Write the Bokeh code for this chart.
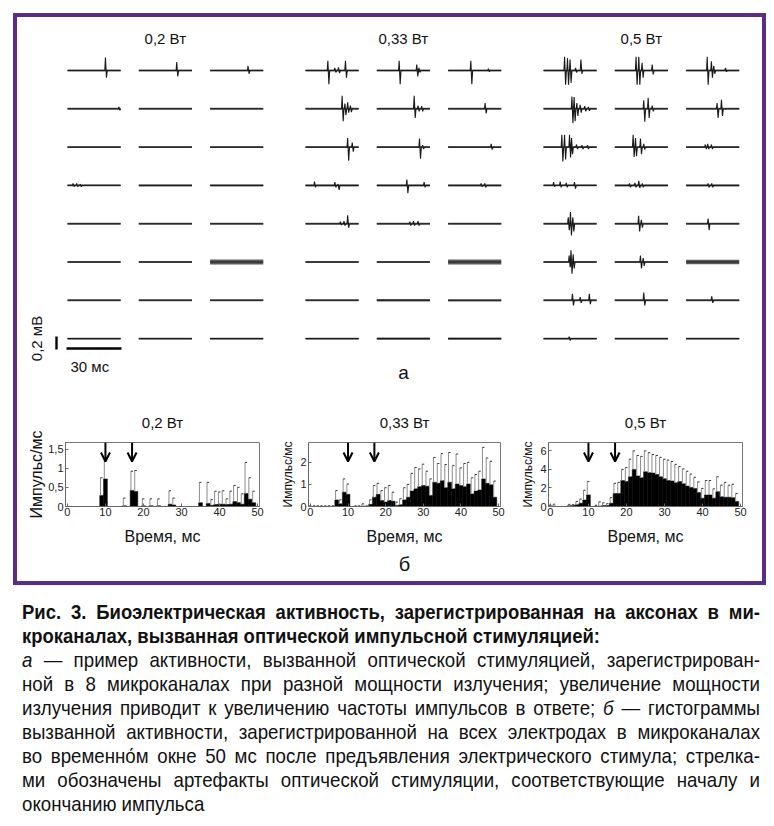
from bokeh.plotting import figure
from bokeh.layouts import column, row
from bokeh.models import Range1d, FixedTicker, Arrow, OpenHead, Title, Div, Spacer
from bokeh.embed import file_html
from bokeh.resources import INLINE
from bokeh.core.properties import value
import math

FONT = "Liberation Sans"
PURPLE = "#5b2c8a"

POWER_LABELS = ["0,2 Вт", "0,33 Вт", "0,5 Вт"]
TRACE_MS = 29.0
SCALE_MS = 30
SCALE_MV = 0.2

# spike events per trace: (time ms, up mV, down mV); 8 rows x 3 columns
SPIKES_02W = [
    [[(20.7, 0.20, 0.11)], [(20.7, 0.13, 0.09)], [(20.7, 0.07, 0.05)]],
    [[(28.0, 0.03, 0.02)], [], []],
    [[], [], []],
    [[(3.0, 0.03, 0.02), (5.0, 0.03, 0.02), (7.0, 0.02, 0.02)], [], []],
    [[], [], []],
    [[], [], []],
    [[], [], []],
    [[], [], []],
]
NOISE_02W = [
    [0.015, 0.015, 0.015], [0.015, 0.015, 0.015], [0.015, 0.015, 0.015], [0.012, 0.015, 0.015],
    [0.015, 0.015, 0.015], [0.015, 0.015, 0.040], [0.015, 0.015, 0.015], [0.015, 0.015, 0.015],
]
SPIKES_033W = [
    [[(12.2, 0.15, 0.21), (16.0, 0.04, 0.03), (18.0, 0.05, 0.04), (21.8, 0.15, 0.11)],
     [(12.2, 0.15, 0.21), (21.8, 0.09, 0.09), (23.0, 0.04, 0.03)],
     [(12.4, 0.15, 0.21), (22.0, 0.03, 0.02)]],
    [[(20.0, 0.20, 0.19), (21.5, 0.08, 0.10), (23.0, 0.10, 0.06), (24.5, 0.05, 0.05)],
     [(20.4, 0.20, 0.14), (22.5, 0.05, 0.04), (24.5, 0.04, 0.04)],
     [(20.2, 0.09, 0.07)]],
    [[(23.0, 0.14, 0.21), (25.5, 0.07, 0.07)],
     [(23.3, 0.13, 0.18), (25.0, 0.03, 0.03)],
     [(23.5, 0.05, 0.04)]],
    [[(4.9, 0.06, 0.03), (16.0, 0.05, 0.03), (17.8, 0.02, 0.07)],
     [(16.4, 0.09, 0.12), (25.8, 0.05, 0.03)],
     [(18.0, 0.03, 0.02), (20.0, 0.03, 0.03)]],
    [[(19.0, 0.03, 0.02), (21.0, 0.04, 0.03), (23.0, 0.13, 0.06)],
     [(18.0, 0.03, 0.03), (20.0, 0.04, 0.03), (22.5, 0.04, 0.03)],
     []],
    [[], [], []],
    [[], [], []],
    [[], [], []],
]
NOISE_033W = [
    [0.015, 0.015, 0.015], [0.015, 0.015, 0.015], [0.015, 0.015, 0.015], [0.015, 0.015, 0.015],
    [0.015, 0.015, 0.015], [0.015, 0.015, 0.040], [0.015, 0.020, 0.018], [0.015, 0.017, 0.017],
]
SPIKES_05W = [
    [[(11.5, 0.21, 0.22), (13.1, 0.19, 0.22), (14.5, 0.17, 0.19), (17.5, 0.04, 0.03), (20.4, 0.17, 0.05)],
     [(11.6, 0.21, 0.22), (13.1, 0.21, 0.22), (14.9, 0.12, 0.11), (20.4, 0.09, 0.06)],
     [(11.5, 0.21, 0.22), (13.8, 0.14, 0.11), (15.1, 0.07, 0.05), (21.5, 0.04, 0.02)]],
    [[(15.5, 0.19, 0.22), (16.7, 0.18, 0.19), (18.2, 0.09, 0.11), (20.0, 0.06, 0.06), (22.5, 0.04, 0.04), (24.5, 0.03, 0.03)],
     [(15.8, 0.13, 0.20), (18.2, 0.17, 0.14), (20.4, 0.05, 0.04)],
     [(16.9, 0.09, 0.14), (19.3, 0.14, 0.11)]],
    [[(10.0, 0.19, 0.22), (11.5, 0.19, 0.19), (14.2, 0.19, 0.16), (15.3, 0.14, 0.11), (18.0, 0.04, 0.03), (21.0, 0.03, 0.03), (24.0, 0.03, 0.03)],
     [(10.0, 0.19, 0.15), (11.3, 0.14, 0.14), (14.0, 0.13, 0.11), (15.8, 0.05, 0.04)],
     [(10.5, 0.04, 0.03), (11.8, 0.05, 0.03), (13.8, 0.04, 0.03)]],
    [[(5.5, 0.05, 0.02), (9.1, 0.06, 0.03), (12.4, 0.04, 0.03), (16.9, 0.05, 0.05)],
     [(8.0, 0.03, 0.03), (11.0, 0.04, 0.03), (13.1, 0.07, 0.04), (15.0, 0.03, 0.03)],
     [(12.0, 0.03, 0.03), (14.0, 0.03, 0.03)]],
    [[(13.5, 0.10, 0.10), (14.7, 0.18, 0.18), (16.0, 0.10, 0.12)],
     [(13.0, 0.12, 0.12), (14.5, 0.06, 0.06)],
     [(12.0, 0.08, 0.10)]],
    [[(14.0, 0.10, 0.08), (15.0, 0.18, 0.18), (16.2, 0.12, 0.10)],
     [(14.0, 0.10, 0.10), (15.5, 0.06, 0.06)],
     []],
    [[(15.8, 0.10, 0.08), (20.0, 0.05, 0.04), (25.0, 0.10, 0.06)],
     [(15.8, 0.12, 0.08)],
     [(14.0, 0.06, 0.04)]],
    [[(14.0, 0.03, 0.03)], [], []],
]
NOISE_05W = [
    [0.015, 0.015, 0.015], [0.015, 0.015, 0.015], [0.015, 0.015, 0.015], [0.012, 0.015, 0.015],
    [0.015, 0.015, 0.015], [0.015, 0.015, 0.036], [0.015, 0.015, 0.015], [0.015, 0.015, 0.015],
]

# histograms: 1 ms bins
BIN_MS = list(range(50))
ARROW_MS = [10, 17]
H02_MEAN = [0, 0, 0, 0, 0, 0, 0, 0, 0, 0.29, 0.72, 0, 0, 0, 0, 0.02, 0, 0.42, 0.39, 0,
            0.02, 0, 0.02, 0, 0.02, 0, 0, 0.06, 0.04, 0, 0, 0, 0, 0, 0, 0.10, 0, 0.08, 0.03, 0.05,
            0.06, 0.06, 0.05, 0.06, 0.13, 0.10, 0.06, 0.34, 0.19, 0.10]
H02_ERR = [0, 0, 0, 0, 0, 0, 0, 0, 0, 0.46, 0.55, 0, 0, 0, 0, 0.20, 0, 0.50, 0.55, 0,
           0.18, 0, 0.18, 0, 0.18, 0, 0, 0.35, 0.18, 0, 0, 0, 0, 0, 0, 0.53, 0, 0.55, 0.15, 0.35,
           0.32, 0.35, 0.15, 0.34, 0.42, 0.40, 0.27, 0.81, 0.56, 0.30]
H033_MEAN = [0, 0, 0, 0, 0, 0, 0, 0.30, 0.12, 0.65, 0.55, 0, 0, 0, 0.02, 0, 0.10, 0.42, 0.55, 0.27,
             0.20, 0.27, 0.24, 0.05, 0.08, 0.30, 0.42, 0.70, 0.80, 0.90, 0.95, 0.92, 0.50, 1.10, 1.05, 1.17,
             0.85, 1.10, 0.80, 1.02, 0.95, 0.90, 1.02, 0.57, 0.70, 0.75, 1.25, 1.05, 0.98, 0.42]
H033_ERR = [0.03, 0.03, 0.03, 0.03, 0.03, 0.03, 0.03, 0.42, 0.18, 0.60, 0.47, 0, 0.03, 0.03, 0.10, 0.03,
            0.20, 0.53, 0.50, 0.45, 0.65, 0.68, 0.41, 0.15, 0.27, 0.55, 0.58, 0.80, 0.97, 0.80, 0.97, 0.68,
            0.75, 1.12, 0.90, 1.23, 1.05, 1.35, 1.05, 1.36, 0.80, 1.05, 0.98, 0.73, 0.75, 0.85, 1.43, 1.15,
            1.07, 0.73]
H05_MEAN = [0.05, 0.05, 0, 0, 0, 0.08, 0.10, 0.20, 0.35, 0.70, 1.25, 0, 0.03, 0.05, 0.10, 0.10, 0.35,
            1.40, 1.40, 2.80, 2.70, 3.20, 4.00, 3.30, 3.10, 3.75, 3.65, 3.60, 3.45, 3.20, 3.00, 2.80, 2.75,
            2.55, 2.70, 2.45, 2.20, 2.05, 1.95, 1.50, 0.90, 1.25, 1.25, 0.90, 1.60, 1.05, 1.00, 1.00, 0.95,
            0.55]
H05_ERR = [0.10, 0.20, 0, 0, 0, 0.15, 0.10, 0.35, 0.45, 1.05, 1.45, 0, 0.10, 0.45, 0.30, 0.20, 0.60,
           1.10, 1.20, 1.20, 1.50, 1.90, 2.00, 2.20, 2.30, 2.25, 2.15, 2.00, 2.05, 2.10, 2.10, 2.20, 2.10,
           2.00, 1.60, 1.60, 1.60, 1.45, 1.20, 1.15, 1.05, 1.55, 1.55, 1.00, 1.60, 1.25, 1.60, 1.30, 1.45,
           0.85]
H02_TICKS = [0, 0.5, 1, 1.5]
H02_TICK_LABELS = ["0", "0,5", "1", "1,5"]
H033_TICKS = [0, 1, 2]
H033_TICK_LABELS = ["0", "1", "2"]
H05_TICKS = [0, 2, 4, 6]
H05_TICK_LABELS = ["0", "2", "4", "6"]
H_YMAX = [1.67, 2.9, 6.9]

CAPTION_LINES = [
    ("bold", "Рис. 3. Биоэлектрическая активность, зарегистрированная на аксонах в ми-", True),
    ("bold", "кроканалах, вызванная оптической импульсной стимуляцией:", False),
    ("normal", "<i>а</i> — пример активности, вызванной оптической стимуляцией, зарегистрирован-", True),
    ("normal", "ной в 8 микроканалах при разной мощности излучения; увеличение мощности", True),
    ("normal", "излучения приводит к увеличению частоты импульсов в ответе; <i>б</i> — гистограммы", True),
    ("normal", "вызванной активности, зарегистрированной на всех электродах в микроканалах", True),
    ("normal", "во временно\u0301м окне 50 мс после предъявления электрического стимула; стрелка-", True),
    ("normal", "ми обозначены артефакты оптической стимуляции, соответствующие началу и", True),
    ("normal", "окончанию импульса", False),
]

# ---------------- top panel (a) ----------------
PX_MS = 1.833
PX_MV = 65.0
TOP_W, TOP_H = 745, 383

top = figure(width=TOP_W, height=TOP_H, output_backend="svg", toolbar_location=None,
             x_range=Range1d(0, TOP_W / PX_MS), y_range=Range1d(0, TOP_H / PX_MV),
             min_border=0, x_axis_type=None, y_axis_type=None)
top.grid.visible = False
top.outline_line_color = None
top.background_fill_color = "white"
top.border_fill_color = "white"


def ms(px):
    return px / PX_MS


def mv_from_top(px):
    return (TOP_H - px) / PX_MV


band_x0, band_x1, band_y, band_w = [], [], [], []
line_xs, line_ys = [], []
groups = [(SPIKES_02W, NOISE_02W), (SPIKES_033W, NOISE_033W), (SPIKES_05W, NOISE_05W)]
for g, (spikes, noise) in enumerate(groups):
    for r in range(8):
        y0 = mv_from_top(53 + 38.3 * r)
        for c in range(3):
            x0 = ms(50 + 238 * g + 71.3 * c)
            band_x0.append(x0)
            band_x1.append(x0 + TRACE_MS)
            band_y.append(y0)
            band_w.append(max(1.6, noise[r][c] * 2 * PX_MV))
            xs, ys = [x0], [y0]
            for t, up, dn in sorted(spikes[r][c]):
                xs += [x0 + t - 0.35, x0 + t, x0 + t + 0.55, x0 + t + 1.0]
                ys += [y0, y0 + up, y0 - dn, y0]
            xs.append(x0 + TRACE_MS)
            ys.append(y0)
            line_xs.append(xs)
            line_ys.append(ys)

top.segment(x0=band_x0, x1=band_x1, y0=band_y, y1=band_y, line_width=band_w, line_color="#333333",
            line_alpha=0.8)
top.multi_line(xs=line_xs, ys=line_ys, line_color="#1a1a1a", line_width=1.1)

gx = [ms(50 + 238 * g + (2 * 71.3 + 53) / 2) for g in range(3)]
top.text(x=gx, y=[mv_from_top(21)] * 3, text=POWER_LABELS, text_font=value(FONT),
         text_font_size="15px", text_align="center", text_baseline="middle", text_color="#111")

# scale bars
sb_x = ms(66 - 17)
sb_y = mv_from_top(348 - 17)
top.segment(x0=[sb_x], x1=[sb_x + SCALE_MS], y0=[sb_y], y1=[sb_y], line_width=2.6, line_color="black")
vb_x = ms(56 - 17)
vb_y = mv_from_top(349 - 17)
top.segment(x0=[vb_x], x1=[vb_x], y0=[vb_y], y1=[vb_y + SCALE_MV], line_width=2.4, line_color="black")
top.text(x=[ms(70 - 17)], y=[mv_from_top(366 - 17)], text=["30 мс"], text_font=value(FONT),
         text_font_size="15px", text_align="left", text_baseline="middle", text_color="#111")
top.text(x=[ms(36 - 17)], y=[mv_from_top(338 - 17)], text=["0,2 мВ"], text_font=value(FONT),
         text_font_size="15px", text_align="center", text_baseline="middle", angle=math.pi / 2,
         text_color="#111")
top.text(x=[ms(403 - 17)], y=[mv_from_top(372 - 17)], text=["а"], text_font=value(FONT),
         text_font_size="19px", text_align="center", text_baseline="middle", text_color="#111")


# ---------------- histograms (б) ----------------
def make_hist(mean, err, ymax, ticks, tick_labels, title, ylab_size, width, left, right, below=None):
    p = figure(width=width, height=181, output_backend="svg", toolbar_location=None,
               x_range=Range1d(-0.5, 50.5), y_range=Range1d(0, ymax),
               min_border_left=left, min_border_right=right, min_border_top=42, min_border_bottom=75)
    p.grid.visible = False
    p.outline_line_color = "#777777"
    p.outline_line_width = 1
    p.background_fill_color = "white"
    p.border_fill_color = "white"
    p.title.text = title
    p.title.align = "center"
    p.title.text_font = FONT
    p.title.text_font_size = "15px"
    p.title.text_font_style = "normal"
    p.title.text_color = "#111"
    p.title.standoff = 23
    p.vbar(x=BIN_MS, top=mean, width=1.0, fill_color="black", line_color="black", line_width=0.5)
    ex, elo, ehi = [], [], []
    for t, m, e in zip(BIN_MS, mean, err):
        if e > 0:
            ex.append(t - 0.3)
            elo.append(m)
            ehi.append(m + e)
    p.segment(x0=ex, x1=ex, y0=elo, y1=ehi, line_color="#8c8c8c", line_width=1)
    p.segment(x0=ex, x1=[x + 0.55 for x in ex], y0=ehi, y1=ehi, line_color="#333333", line_width=1)
    tip = ymax * (1 - 19 / 64)
    for a in ARROW_MS:
        p.add_layout(Arrow(end=OpenHead(size=9, line_width=2, line_color="black"),
                           x_start=a, y_start=ymax, x_end=a, y_end=tip,
                           line_width=2, line_color="black"))
    p.xaxis.ticker = FixedTicker(ticks=[0, 10, 20, 30, 40, 50])
    p.yaxis.ticker = FixedTicker(ticks=ticks)
    p.yaxis.major_label_overrides = dict(zip(ticks, tick_labels))
    for ax in (p.xaxis, p.yaxis):
        ax.major_tick_in = 3
        ax.major_tick_out = 0
        ax.minor_tick_line_color = None
        ax.axis_line_color = "#666666"
        ax.major_tick_line_color = "#666666"
        ax.major_label_text_font = FONT
        ax.major_label_text_font_size = "11px"
        ax.major_label_text_color = "#222"
        ax.axis_label_text_font = FONT
        ax.axis_label_text_font_style = "normal"
        ax.axis_label_text_color = "#111"
    p.xaxis.major_label_standoff = 1
    p.yaxis.major_label_standoff = 2
    p.xaxis.axis_label = "Время, мс"
    p.xaxis.axis_label_text_font_size = "16px"
    p.xaxis.axis_label_standoff = 9
    p.yaxis.axis_label = "Импульс/мс"
    p.yaxis.axis_label_text_font_size = ylab_size
    p.yaxis.axis_label_standoff = 0 if ylab_size == "16px" else 2
    if below:
        p.add_layout(Title(text=below, align="center", text_font=FONT, text_font_size="20px",
                           text_font_style="normal", text_color="#111", standoff=6), "below")
    return p


h1 = make_hist(H02_MEAN, H02_ERR, H_YMAX[0], H02_TICKS, H02_TICK_LABELS, POWER_LABELS[0], "16px", 261, 48, 19)
h2 = make_hist(H033_MEAN, H033_ERR, H_YMAX[1], H033_TICKS, H033_TICK_LABELS, POWER_LABELS[1], "12px", 240, 25, 18,
               below="б")
h3 = make_hist(H05_MEAN, H05_ERR, H_YMAX[2], H05_TICKS, H05_TICK_LABELS, POWER_LABELS[2], "12px", 244, 25, 20)

BW = 4  # frame line width, px
inner = column(top, row(h1, h2, h3, styles={"background-color": "white"}),
               styles={"background-color": "white"})
framed = column(
    Spacer(width=TOP_W + 2 * BW, height=BW),
    row(Spacer(width=BW, height=TOP_H + 181), inner, Spacer(width=BW, height=TOP_H + 181)),
    Spacer(width=TOP_W + 2 * BW, height=BW),
    styles={"background-color": PURPLE})

SCALES = {"bold": 0.88, "normal": 0.89}
html_lines = []
for weight, txt, justify in CAPTION_LINES:
    s = SCALES[weight]
    align = "text-align:justify;text-align-last:justify;" if justify else "text-align:left;"
    html_lines.append(
        f'<div style="white-space:nowrap;font-weight:{weight};{align}width:{738 / s:.1f}px;'
        f'transform:scaleX({s});transform-origin:0 0;height:24px;">{txt}</div>')
caption = Div(text="".join(html_lines), width=738, height=216, margin=(0, 0, 0, 0),
              styles={"font-family": "'Liberation Sans',Arial,sans-serif", "font-size": "21px",
                      "line-height": "24px", "color": "#111", "overflow": "visible"})

# the page is photographed without a body margin, so the offsets include it
root = column(Spacer(width=766, height=13),
              row(Spacer(width=13, height=TOP_H + 181 + 2 * BW), framed),
              Spacer(width=766, height=15),
              row(Spacer(width=22, height=216), caption))
open("out.html", "w").write(file_html(root, INLINE))
